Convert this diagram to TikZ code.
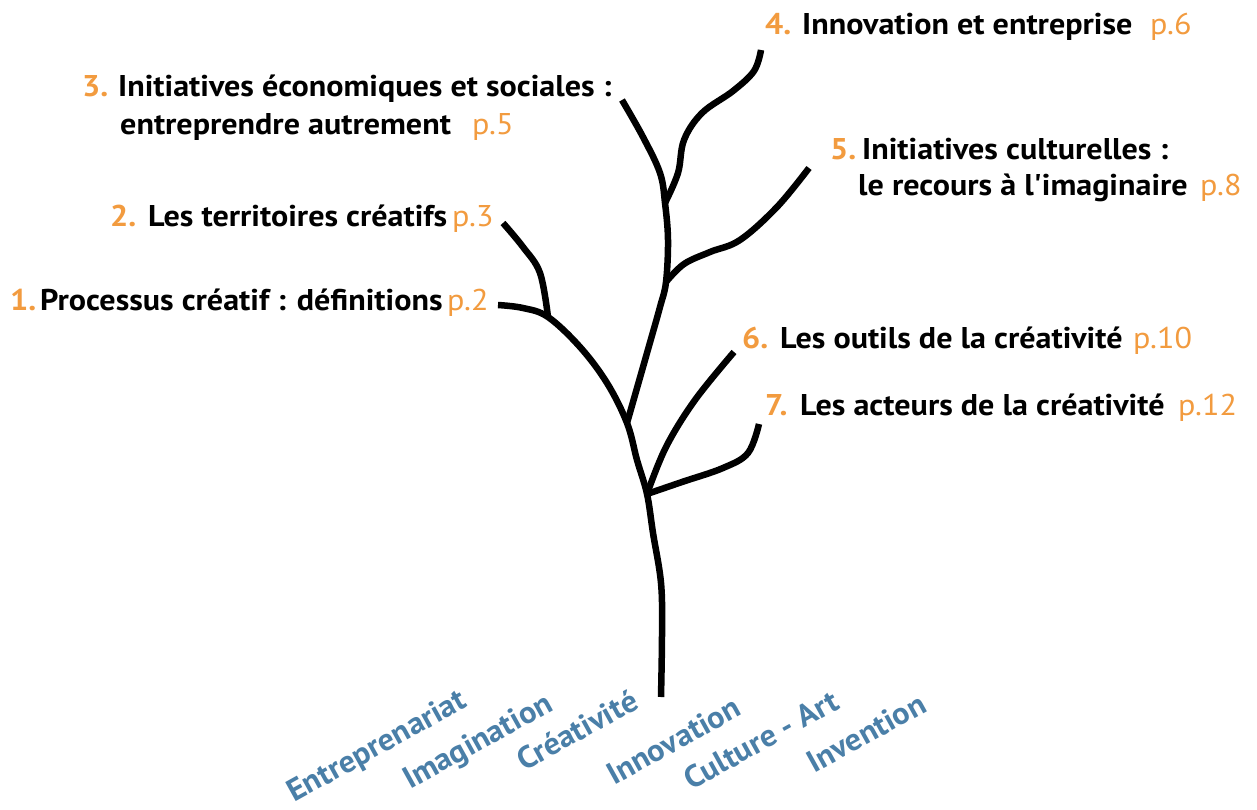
\documentclass[tikz,border=0pt]{standalone}
\usepackage{fontspec}
\setmainfont{PT Sans}
\newfontfamily\lblfont[FakeStretch=1.07]{PT Sans}
\newfontfamily\rootfont[FakeStretch=1.04]{PT Sans}
\definecolor{orng}{HTML}{F29B3F}
\definecolor{blu}{HTML}{4A7FA8}
\tikzset{
  branch/.style={line width=6.5pt, black, line join=round},
  numtxt/.style={anchor=base west, inner sep=0pt, text=orng, font=\lblfont\bfseries\fontsize{30}{36}\selectfont},
  titletxt/.style={anchor=base west, inner sep=0pt, text=black, font=\lblfont\bfseries\fontsize{30}{36}\selectfont},
  pagetxt/.style={anchor=base west, inner sep=0pt, text=orng, font=\lblfont\fontsize{30}{36}\selectfont},
  rootword/.style={anchor=base west, inner sep=0pt, text=blu, rotate=29, font=\rootfont\bfseries\fontsize{31}{36}\selectfont}
}
\begin{document}
\begin{tikzpicture}[x=1pt,y=-1pt]
\useasboundingbox (0,0) rectangle (1257,810);
\fill[white] (0,0) rectangle (1257,810);

% junction and end coordinates
\coordinate (root) at (661,697);
\coordinate (jA) at (627,423);
\coordinate (jB) at (647,494);
\coordinate (jC) at (666,282);
\coordinate (jD) at (665,203);
\coordinate (jE) at (548,317);
\coordinate (e1) at (498,305);
\coordinate (e2) at (503,223);
\coordinate (e3) at (622,100);
\coordinate (e4) at (761,50);
\coordinate (e5) at (809,168);
\coordinate (e6) at (734,352);
\coordinate (e7) at (759,424);

% branch 1 + trunk
\draw[branch] plot[smooth, tension=0.6] coordinates {(e1) (523,308) (jE) (580,347) (607,383) (jA) (637,460) (jB) (653,533) (661,583) (662,633) (root)};
% upper trunk + branch 3
\draw[branch] plot[smooth, tension=0.6] coordinates {(jA) (647,353) (660,307) (jC) (668,240) (jD) (660,173) (643,137) (e3)};
% branch 2
\draw[branch] plot[smooth, tension=0.6] coordinates {(e2) (523,247) (540,273) (jE)};
% branch 4
\draw[branch] plot[smooth, tension=0.6] coordinates {(jD) (678,173) (684,140) (702,113) (733,91) (754,71) (e4)};
% branch 5
\draw[branch] plot[smooth, tension=0.6] coordinates {(jC) (684,264) (710,252) (740,240) (777,207) (e5)};
% branch 6
\draw[branch] plot[smooth, tension=0.6] coordinates {(jB) (666,447) (695,400) (e6)};
% branch 7
\draw[branch] plot[smooth, tension=0.6] coordinates {(jB) (682,482) (723,468) (748,453) (e7)};

% labels
\node[numtxt] (n1) at (10,310) {1.};
\node[titletxt] (t1) at (40,310) {Processus créatif : définitions};
\node[pagetxt] (p1) at (447,310) {p.2};

\node[numtxt] (n2) at (110,227) {2.};
\node[titletxt] (t2) at (148,227) {Les territoires créatifs};
\node[pagetxt] (p2) at (452,227) {p.3};

\node[numtxt] (n3) at (82,97) {3.};
\node[titletxt] (t3) at (118,97) {Initiatives économiques et sociales :};
\node[titletxt] (t3b) at (120,135) {entreprendre autrement};
\node[pagetxt] (p3) at (472,135) {p.5};

\node[numtxt] (n4) at (765,35) {4.};
\node[titletxt] (t4) at (802,35) {Innovation et entreprise};
\node[pagetxt] (p4) at (1150,35) {p.6};

\node[numtxt] (n5) at (830,160) {5.};
\node[titletxt] (t5) at (862,160) {Initiatives culturelles :};
\node[titletxt] (t5b) at (858,196) {le recours à l'imaginaire};
\node[pagetxt] (p5) at (1200,196) {p.8};

\node[numtxt] (n6) at (742,348) {6.};
\node[titletxt] (t6) at (780,348) {Les outils de la créativité};
\node[pagetxt] (p6) at (1133,348) {p.10};

\node[numtxt] (n7) at (765,415) {7.};
\node[titletxt] (t7) at (800,415) {Les acteurs de la créativité};
\node[pagetxt] (p7) at (1178,415) {p.12};

% root words
\node[rootword] (w1) at (294,803) {Entreprenariat};
\node[rootword] (w2) at (410,790) {Imagination};
\node[rootword] (w3) at (524,772) {Créativité};
\node[rootword] (w4) at (614,786) {Innovation};
\node[rootword] (w5) at (691,791) {Culture - Art};
\node[rootword] (w6) at (814,774) {Invention};
\end{tikzpicture}
\end{document}
